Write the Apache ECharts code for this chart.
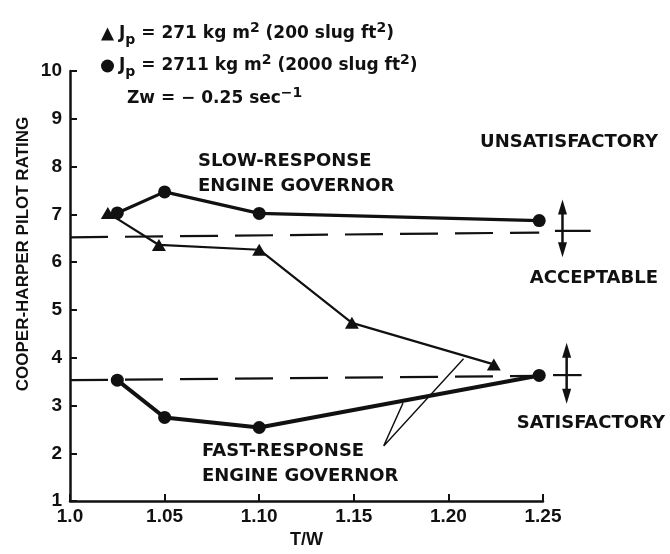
<!DOCTYPE html>
<html>
<head>
<meta charset="utf-8">
<script src="https://cdn.jsdelivr.net/npm/echarts@6/dist/echarts.min.js"></script>
<style>
  html, body { margin: 0; padding: 0; background: #fff; }
  #main { width: 670px; height: 554px; }
</style>
</head>
<body>
<div id="main"></div>
<script>
// T/W values and pilot ratings
const twLight = [1.02, 1.047, 1.10, 1.149, 1.224];      // Jp = 271 (triangles)
const ratingLight = [7.03, 6.36, 6.26, 4.73, 3.86];
const twHeavySlow = [1.025, 1.05, 1.10, 1.248];          // Jp = 2711, slow governor
const ratingHeavySlow = [7.03, 7.47, 7.02, 6.87];
const twHeavyFast = [1.025, 1.05, 1.10, 1.248];          // Jp = 2711, fast governor
const ratingHeavyFast = [3.53, 2.75, 2.54, 3.63];

// boundaries (dashed) between rating classes
const boundaryTw = [1.0, 1.248];
const upperBoundary = [6.52, 6.62];
const lowerBoundary = [3.53, 3.62];

// ticks
const xTicks = [1.0, 1.05, 1.10, 1.15, 1.20, 1.25];
const xTickLabels = ["1.0", "1.05", "1.10", "1.15", "1.20", "1.25"];
const yTicks = [1, 2, 3, 4, 5, 6, 7, 8, 9, 10];

const FONT = "Liberation Sans";
const TEXT_FONT = "DejaVu Sans";
const INK = "#111";

const zip = (xs, ys) => xs.map((x, i) => [x, ys[i]]);

const chart = echarts.init(document.getElementById("main"));

// annotation strokes; the ones right of the axis go on a wider hidden grid
const stroke = (pts, width, extra) =>
  Object.assign(
    {
      type: "line",
      data: pts,
      symbol: "none",
      silent: true,
      lineStyle: { color: INK, width: width },
      z: 3,
    },
    extra || {}
  );

const arrow = (x, yLow, yHigh) =>
  stroke(
    [
      { value: [x, yLow], symbolRotate: 180 },
      { value: [x, yHigh] },
    ],
    2.5,
    {
      xAxisIndex: 1,
      yAxisIndex: 1,
      symbol: "triangle",
      symbolSize: [9, 15],
      showAllSymbol: true,
      itemStyle: { color: INK },
    }
  );

const textStyle = (size) => ({ fontFamily: TEXT_FONT, fontWeight: "bold", fontSize: size, color: INK });

const label = (x, y, text, align) => ({
  type: "text",
  x: x,
  y: y,
  style: {
    text: text,
    font: "bold 18px '" + TEXT_FONT + "'",
    fill: INK,
    align: align || "left",
    verticalAlign: "middle",
  },
});

const option = {
  animation: false,
  backgroundColor: "#fff",
  grid: [
    { left: 70, right: 127, top: 71, bottom: 52 },
    { left: 70, right: 32.4, top: 71, bottom: 52 },
  ],
  xAxis: [
    {
      type: "value",
      min: 1.0,
      max: 1.25,
      interval: 0.05,
      name: "T/W",
      nameLocation: "middle",
      nameGap: 21,
      nameTextStyle: { fontFamily: FONT, fontWeight: "bold", fontSize: 18, color: INK },
      axisLine: { lineStyle: { color: INK, width: 2.5 } },
      axisTick: { inside: true, length: 7, lineStyle: { color: INK, width: 2 } },
      axisLabel: {
        margin: 6,
        fontFamily: FONT,
        fontWeight: "bold",
        fontSize: 19,
        color: INK,
        formatter: (v) => {
          const i = xTicks.findIndex((t) => Math.abs(t - v) < 1e-6);
          return i >= 0 ? xTickLabels[i] : "";
        },
      },
      splitLine: { show: false },
    },
    { type: "value", gridIndex: 1, min: 1.0, max: 1.3, show: false },
  ],
  yAxis: [
    {
      type: "value",
      min: 1,
      max: 10,
      interval: 1,
      axisLine: { lineStyle: { color: INK, width: 2.5 } },
      axisTick: { inside: true, length: 7, lineStyle: { color: INK, width: 2 } },
      axisLabel: {
        margin: 8,
        fontFamily: FONT,
        fontWeight: "bold",
        fontSize: 19,
        color: INK,
        formatter: (v) => (yTicks.includes(v) ? String(v) : ""),
      },
      splitLine: { show: false },
    },
    { type: "value", gridIndex: 1, min: 1, max: 10, show: false },
  ],
  legend: {
    orient: "vertical",
    left: 96,
    top: 16,
    itemWidth: 13,
    itemHeight: 13,
    itemGap: 6,
    data: [
      { name: "271", icon: "triangle" },
      { name: "2711", icon: "circle" },
    ],
    formatter: (name) =>
      name === "271"
        ? "{t|J}{sub|p}{t| = 271 kg m}{sup|2}{t| (200 slug ft}{sup|2}{t|)}"
        : "{t|J}{sub|p}{t| = 2711 kg m}{sup|2}{t| (2000 slug ft}{sup|2}{t|)}",
    textStyle: {
      rich: {
        t: Object.assign(textStyle(17), { lineHeight: 26 }),
        sub: Object.assign(textStyle(14), { verticalAlign: "bottom", lineHeight: 26 }),
        sup: Object.assign(textStyle(14), { verticalAlign: "top", lineHeight: 24 }),
      },
    },
  },
  graphic: [
    {
      type: "text",
      x: 23,
      y: 254,
      rotation: Math.PI / 2,
      style: {
        text: "COOPER-HARPER PILOT RATING",
        font: "bold 17px '" + FONT + "'",
        fill: INK,
        align: "center",
        verticalAlign: "middle",
      },
    },
    {
      type: "text",
      left: 127,
      top: 86,
      style: {
        text: "{t|Zw = − 0.25 sec}{sup|−1}",
        rich: {
          t: { fontFamily: TEXT_FONT, fontWeight: "bold", fontSize: 17, fill: INK, lineHeight: 26 },
          sup: { fontFamily: TEXT_FONT, fontWeight: "bold", fontSize: 14, fill: INK, verticalAlign: "top", lineHeight: 24 },
        },
      },
    },
    label(198, 161, "SLOW-RESPONSE"),
    label(198, 186, "ENGINE GOVERNOR"),
    label(202, 451, "FAST-RESPONSE"),
    label(202, 476, "ENGINE GOVERNOR"),
    label(658, 142, "UNSATISFACTORY", "right"),
    label(658, 278, "ACCEPTABLE", "right"),
    label(665, 423, "SATISFACTORY", "right"),
  ],
  series: [
    {
      name: "271",
      type: "line",
      data: zip(twLight, ratingLight),
      symbol: "triangle",
      symbolSize: [14, 12],
      lineStyle: { color: INK, width: 2.2 },
      itemStyle: { color: INK },
      z: 4,
    },
    {
      name: "2711",
      type: "line",
      data: zip(twHeavySlow, ratingHeavySlow),
      symbol: "circle",
      symbolSize: 13,
      lineStyle: { color: INK, width: 3.2 },
      itemStyle: { color: INK },
      z: 4,
    },
    {
      name: "2711",
      type: "line",
      data: zip(twHeavyFast, ratingHeavyFast),
      symbol: "circle",
      symbolSize: 13,
      lineStyle: { color: INK, width: 4 },
      itemStyle: { color: INK },
      z: 4,
    },
    // rating class boundaries
    stroke(zip(boundaryTw, upperBoundary), 2.2, { lineStyle: { color: INK, width: 2.2, type: [38, 17] } }),
    stroke(zip(boundaryTw, lowerBoundary), 2.2, { lineStyle: { color: INK, width: 2.2, type: [38, 17] } }),
    // crosses and arrows at the right
    stroke([[1.2563, 6.66], [1.2752, 6.66]], 2.2, { xAxisIndex: 1, yAxisIndex: 1 }),
    arrow(1.2603, 6.27, 7.16),
    stroke([[1.2553, 3.65], [1.2704, 3.65]], 2.2, { xAxisIndex: 1, yAxisIndex: 1 }),
    arrow(1.2625, 3.21, 4.17),
    // pointers from the fast-response label
    stroke([[1.208, 3.98], [1.1658, 2.155], [1.176, 3.05]], 1.4),
  ],
};

chart.setOption(option);
</script>
</body>
</html>
